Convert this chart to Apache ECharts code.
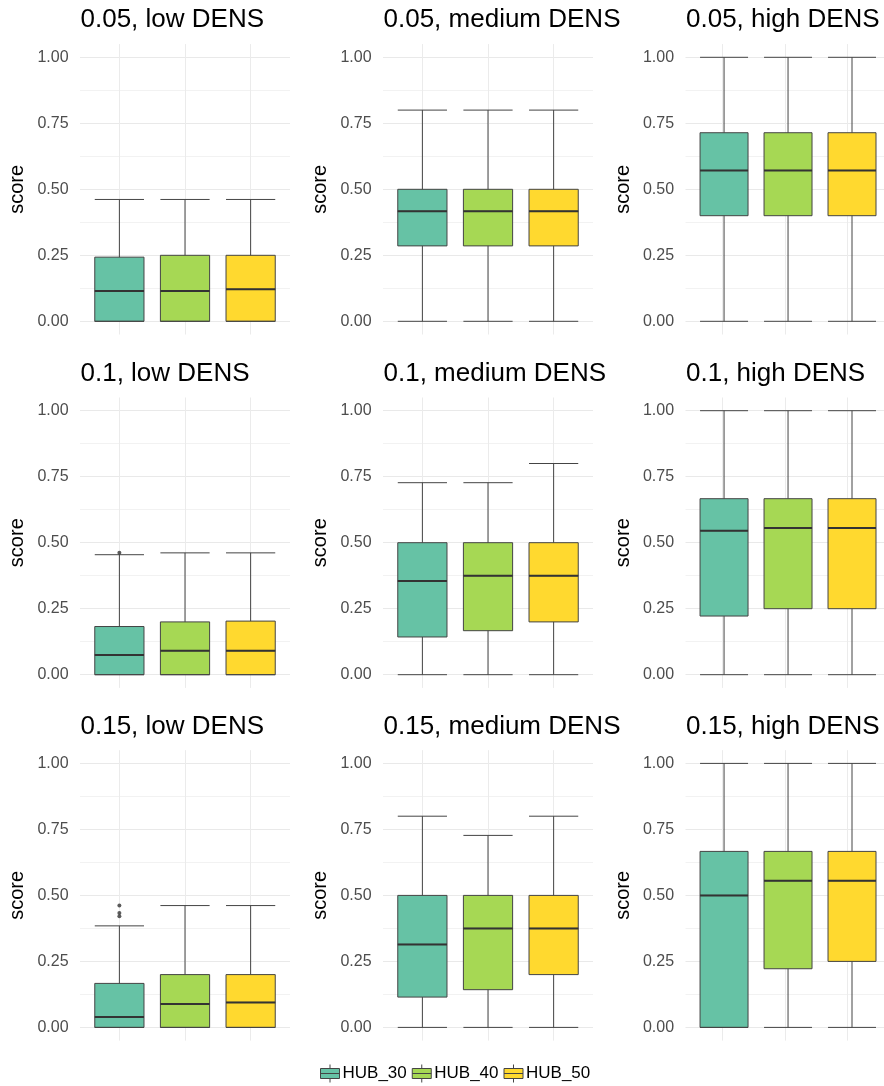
<!DOCTYPE html>
<html><head><meta charset="utf-8">
<script src="https://cdn.jsdelivr.net/npm/echarts@6/dist/echarts.min.js"></script>
<style>html,body{margin:0;padding:0;background:#fff}#c{width:884px;height:1086px}</style>
</head><body><div id="c"></div>
<script>
// ---------- data ----------
const hubs = ['HUB_30', 'HUB_40', 'HUB_50'];
const rates = ['0.05', '0.1', '0.15'];
const densities = ['low', 'medium', 'high'];
const hubColors = ['#66C2A5', '#A6D854', '#FFD92F'];
const yTickLabels = ['0.00', '0.25', '0.50', '0.75', '1.00'];

// box stats per hub: [lower whisker, Q1, median, Q3, upper whisker]
const box_005_low  = [[0, 0, 0.115, 0.243, 0.4615], [0, 0, 0.115, 0.25, 0.4615], [0, 0, 0.121, 0.25, 0.4615]];
const box_005_med  = [[0, 0.2857, 0.4167, 0.5, 0.8], [0, 0.2857, 0.4167, 0.5, 0.8], [0, 0.2857, 0.4167, 0.5, 0.8]];
const box_005_high = [[0, 0.4, 0.5714, 0.7143, 1], [0, 0.4, 0.5714, 0.7143, 1], [0, 0.4, 0.5714, 0.7143, 1]];
const box_01_low   = [[0, 0, 0.075, 0.1825, 0.4545], [0, 0, 0.0909, 0.2, 0.4615], [0, 0, 0.0909, 0.203, 0.4615]];
const box_01_med   = [[0, 0.1429, 0.355, 0.5, 0.7273], [0, 0.1667, 0.375, 0.5, 0.7273], [0, 0.2, 0.375, 0.5, 0.8]];
const box_01_high  = [[0, 0.2222, 0.5455, 0.6667, 1], [0, 0.25, 0.5556, 0.6667, 1], [0, 0.25, 0.5556, 0.6667, 1]];
const box_015_low  = [[0, 0, 0.039, 0.1667, 0.3846], [0, 0, 0.0883, 0.2, 0.4615], [0, 0, 0.0947, 0.2, 0.4615]];
const box_015_med  = [[0, 0.1148, 0.3144, 0.5, 0.8], [0, 0.1429, 0.375, 0.5, 0.7273], [0, 0.2, 0.375, 0.5, 0.8]];
const box_015_high = [[0, 0, 0.5, 0.6667, 1], [0, 0.2222, 0.5556, 0.6667, 1], [0, 0.25, 0.5556, 0.6667, 1]];

// outliers: [hub index, value]
const out_01_low  = [[0, 0.4615]];
const out_015_low = [[0, 0.4615], [0, 0.4333], [0, 0.4211]];

const panelBoxes = [
  [box_005_low, box_005_med, box_005_high],
  [box_01_low, box_01_med, box_01_high],
  [box_015_low, box_015_med, box_015_high]
];
const panelOutliers = [
  [[], [], []],
  [out_01_low, [], []],
  [out_015_low, [], []]
];

// ---------- layout ----------
const COL_LEFT = [80, 383, 685.5];     // left of panel area (with expansion)
const ROW_TOP = [57.3, 410.7, 763.4];  // y pixel of score = 1
const PANEL_W = 210;
const UNIT_W = PANEL_W / 3.2;
const DATA_H = 264;
const FONT = '"Liberation Sans", Arial, sans-serif';

const bgX = Array.from({length: 17}, (_, i) => String(i));
const bgY = Array.from({length: 45}, (_, i) => String(i));

const grid = [], xAxis = [], yAxis = [], series = [], title = [];

let p = 0;
for (let r = 0; r < 3; r++) {
  for (let c = 0; c < 3; c++) {
    const L = COL_LEFT[c], T = ROW_TOP[r];
    grid.push({left: L + 0.1 * UNIT_W, top: T, width: 3 * UNIT_W, height: DATA_H, containLabel: false});
    grid.push({left: L, top: T - 0.05 * DATA_H, width: PANEL_W, height: 1.1 * DATA_H, containLabel: false});
    const gD = 2 * p, gB = 2 * p + 1;
    xAxis.push({type: 'category', gridIndex: gD, data: hubs, boundaryGap: true,
      axisLine: {show: false}, axisTick: {show: false}, axisLabel: {show: false}, splitLine: {show: false}});
    xAxis.push({type: 'category', gridIndex: gB, data: bgX, boundaryGap: false,
      axisLine: {show: false}, axisTick: {show: false}, axisLabel: {show: false},
      splitLine: {show: true, interval: (i) => i === 3 || i === 8 || i === 13, lineStyle: {color: '#ebebeb', width: 1}}});
    yAxis.push({type: 'value', gridIndex: gD, min: 0, max: 1, interval: 0.25,
      name: 'score', nameLocation: 'middle', nameGap: 59,
      nameTextStyle: {fontSize: 20, color: '#000', fontFamily: FONT},
      axisLine: {show: false}, axisTick: {show: false}, splitLine: {show: false},
      axisLabel: {margin: 18, fontSize: 16, color: '#4d4d4d', fontFamily: FONT,
        formatter: (v) => yTickLabels[Math.round(v / 0.25)]}});
    yAxis.push({type: 'category', gridIndex: gB, data: bgY, boundaryGap: false,
      axisLine: {show: false}, axisTick: {show: false}, axisLabel: {show: false},
      splitLine: {show: true, interval: (i) => i >= 2 && (i - 2) % 10 === 0, lineStyle: {color: '#e9e9e9', width: 1}}});
    yAxis.push({type: 'category', gridIndex: gB, data: bgY, boundaryGap: false, position: 'right',
      axisLine: {show: false}, axisTick: {show: false}, axisLabel: {show: false},
      splitLine: {show: true, interval: (i) => i >= 7 && (i - 7) % 10 === 0, lineStyle: {color: '#f2f2f2', width: 1}}});

    const box = panelBoxes[r][c];
    const xi = 2 * p, yi = 3 * p;
    series.push({
      type: 'boxplot', name: 'box' + p, xAxisIndex: xi, yAxisIndex: yi, silent: true,
      boxWidth: ['75%', '75%'],
      data: box.map((b, k) => ({value: b, itemStyle: {color: hubColors[k], borderColor: '#444', borderWidth: 1}}))
    });
    series.push({
      type: 'custom', name: 'median' + p, xAxisIndex: xi, yAxisIndex: yi, silent: true, z: 5,
      data: box.map((b, k) => [k, b[2]]),
      renderItem: (params, api) => {
        const pt = api.coord([api.value(0), api.value(1)]);
        const w = api.size([1, 0])[0] * 0.75;
        return {type: 'line', shape: {x1: pt[0] - w / 2, y1: pt[1], x2: pt[0] + w / 2, y2: pt[1]},
          style: {stroke: '#333', lineWidth: 2}};
      }
    });
    const outs = panelOutliers[r][c];
    if (outs.length) {
      series.push({type: 'scatter', name: 'out' + p, xAxisIndex: xi, yAxisIndex: yi, silent: true, z: 6,
        data: outs, symbol: 'circle', symbolSize: 4, itemStyle: {color: '#333'}});
    }
    title.push({text: rates[r] + ', ' + densities[c] + ' DENS', left: L + 0.5, top: T - 50, padding: 0,
      textStyle: {fontSize: 26, fontWeight: 'normal', color: '#000', fontFamily: FONT}});
    p++;
  }
}
// legend entries
hubs.forEach((h) => series.push({type: 'line', name: h, xAxisIndex: 0, yAxisIndex: 0, data: []}));

const legendIcon = 'path://M9.5,0L9.5,4M0,4L19,4L19,14L0,14ZM0,9L19,9M9.5,14L9.5,18';

const option = {
  animation: false,
  backgroundColor: '#fff',
  title: title,
  grid: grid, xAxis: xAxis, yAxis: yAxis, series: series,
  legend: {
    left: 320, top: 1064, padding: 0, itemWidth: 19, itemHeight: 18, itemGap: 5,
    selectedMode: false, icon: legendIcon,
    textStyle: {fontSize: 17, color: '#000', fontFamily: FONT, padding: [0, 0, 0, -2]},
    data: hubs.map((h, k) => ({name: h, itemStyle: {color: hubColors[k], borderColor: '#444', borderWidth: 1}}))
  }
};
const chart = echarts.init(document.getElementById('c'), null, {renderer: 'canvas'});
chart.setOption(option);
</script></body></html>
